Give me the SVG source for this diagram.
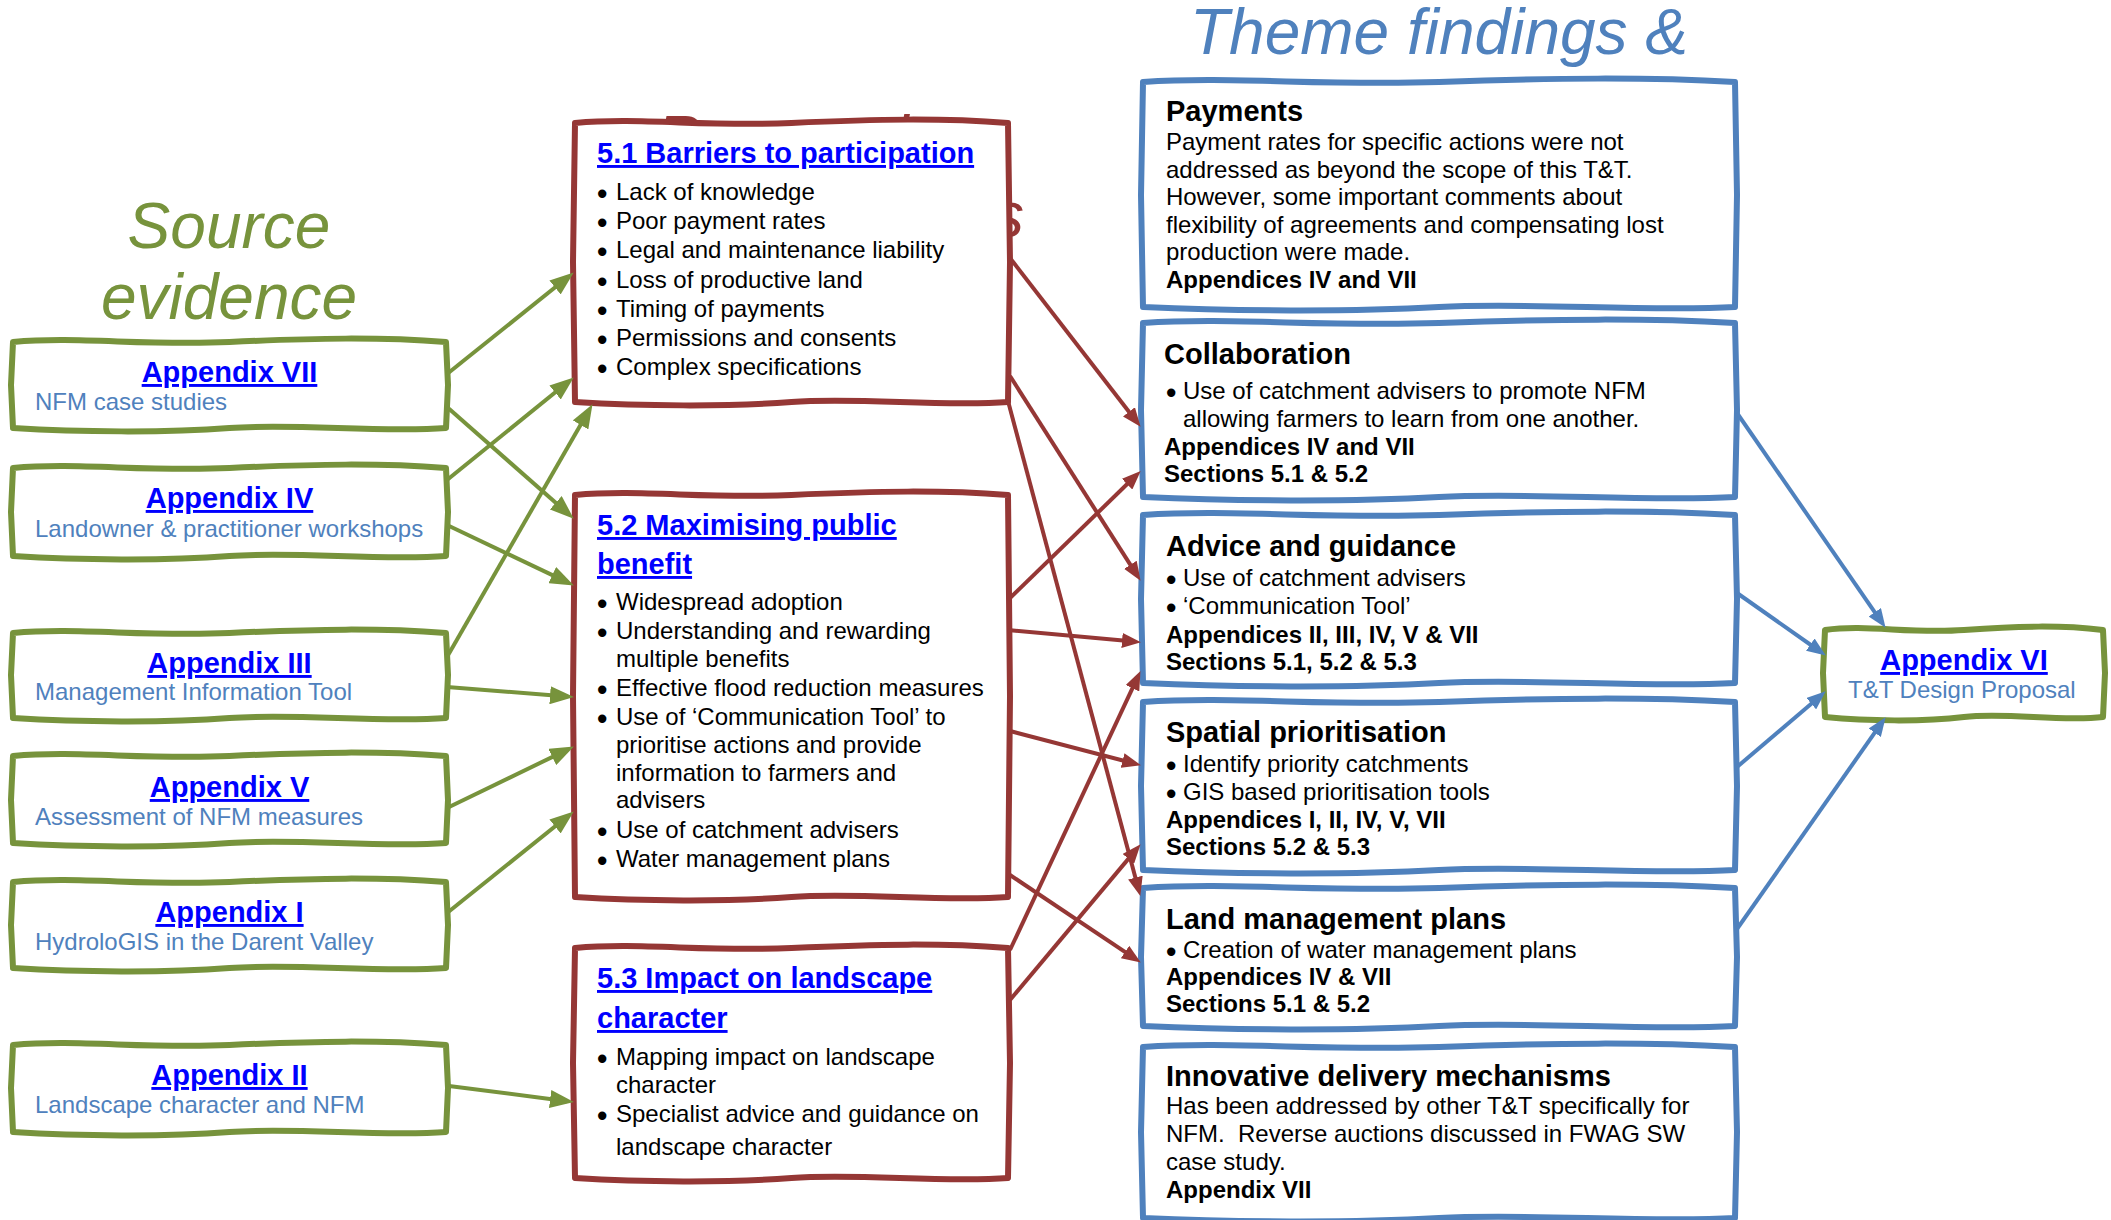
<svg xmlns="http://www.w3.org/2000/svg" width="2111" height="1220" viewBox="0 0 2111 1220">
<defs>
<style>
.box{fill:#fff;stroke-width:6;stroke-linejoin:round}
.g{stroke:#77933C}.r{stroke:#953735}.b{stroke:#4F81BD}
text{font-family:"Liberation Sans",Arial,sans-serif}
.ttl{font-size:29px;font-weight:bold;fill:#0000FF;text-decoration:underline}
.sub{font-size:24px;fill:#4F81BD}
.t{font-size:24px;fill:#000}
.bu{font-size:24px;fill:#000;stroke:#000;stroke-width:1.8}
.tb{font-size:24px;font-weight:bold;fill:#000}
.hd{font-size:29px;font-weight:bold;fill:#000}
.big{font-size:64px;font-style:italic}
.cg{stroke:#77933C;stroke-width:4;fill:none}
.cr{stroke:#953735;stroke-width:4;fill:none}
.cb{stroke:#4F81BD;stroke-width:4;fill:none}
</style>
<marker id="ag" markerUnits="userSpaceOnUse" markerWidth="24" markerHeight="18" refX="17" refY="9" orient="auto"><path d="M0,0 L24,9 L0,18 Z" fill="#77933C"/></marker>
<marker id="ar" markerUnits="userSpaceOnUse" markerWidth="19" markerHeight="15" refX="12" refY="7.5" orient="auto"><path d="M0,0 L19,7.5 L0,15 Z" fill="#953735"/></marker>
<marker id="ab" markerUnits="userSpaceOnUse" markerWidth="19" markerHeight="15" refX="12" refY="7.5" orient="auto"><path d="M0,0 L19,7.5 L0,15 Z" fill="#4F81BD"/></marker>
</defs>
<rect width="2111" height="1220" fill="#fff"/>

<g id="titles">
<text class="big" x="229" y="248" text-anchor="middle" fill="#77933C">Source</text>
<text class="big" x="229" y="319" text-anchor="middle" fill="#77933C">evidence</text>
<text class="big" x="1190" y="54" fill="#4F81BD">Theme findings &amp;</text>
<text class="big" x="656" y="161" fill="#953735">Research</text>
<text class="big" x="1024" y="237" fill="#953735" text-anchor="end">questions</text>
</g>

<g id="app-vii">
<path class="box g" d="M13,342 C78,336 143,346 229.5,342 S381,337 446,342 L448,385 446,428 C381,433 294.5,423 229.5,428 S78,432 13,428 L11,385 Z"/>
<text class="ttl" x="229.5" y="382" text-anchor="middle">Appendix VII</text>
<text class="sub" x="35" y="410">NFM case studies</text>
</g>
<g id="app-iv">
<path class="box g" d="M13,468 C78,462 143,472 229.5,468 S381,463 446,468 L448,512 446,556 C381,561 294.5,551 229.5,556 S78,560 13,556 L11,512 Z"/>
<text class="ttl" x="229.5" y="508" text-anchor="middle">Appendix IV</text>
<text class="sub" x="35" y="537">Landowner &amp; practitioner workshops</text>
</g>
<g id="app-iii">
<path class="box g" d="M13,633 C78,627 143,637 229.5,633 S381,628 446,633 L448,675 446,718 C381,723 294.5,713 229.5,718 S78,722 13,718 L11,675 Z"/>
<text class="ttl" x="229.5" y="673" text-anchor="middle">Appendix III</text>
<text class="sub" x="35" y="700">Management Information Tool</text>
</g>
<g id="app-v">
<path class="box g" d="M13,756 C78,750 143,760 229.5,756 S381,751 446,756 L448,800 446,843 C381,848 294.5,838 229.5,843 S78,847 13,843 L11,800 Z"/>
<text class="ttl" x="229.5" y="797" text-anchor="middle">Appendix V</text>
<text class="sub" x="35" y="825">Assessment of NFM measures</text>
</g>
<g id="app-i">
<path class="box g" d="M13,882 C78,876 143,886 229.5,882 S381,877 446,882 L448,925 446,968 C381,973 294.5,963 229.5,968 S78,972 13,968 L11,925 Z"/>
<text class="ttl" x="229.5" y="922" text-anchor="middle">Appendix I</text>
<text class="sub" x="35" y="950">HydroloGIS in the Darent Valley</text>
</g>
<g id="app-ii">
<path class="box g" d="M13,1045 C78,1039 143,1049 229.5,1045 S381,1040 446,1045 L448,1088 446,1132 C381,1137 294.5,1127 229.5,1132 S78,1136 13,1132 L11,1088 Z"/>
<text class="ttl" x="229.5" y="1085" text-anchor="middle">Appendix II</text>
<text class="sub" x="35" y="1113">Landscape character and NFM</text>
</g>

<g id="sec-5-1">
<path class="box r" d="M575,123 C640,117 705,127 791.5,123 S943,118 1008,123 L1010,262 1008,402 C943,407 856.5,397 791.5,402 S640,406 575,402 L573,262 Z"/>
<text class="ttl" x="597" y="163">5.1 Barriers to participation</text>
<text class="bu" x="598" y="202">•</text><text class="t" x="616" y="200">Lack of knowledge</text>
<text class="bu" x="598" y="231">•</text><text class="t" x="616" y="229">Poor payment rates</text>
<text class="bu" x="598" y="260">•</text><text class="t" x="616" y="258">Legal and maintenance liability</text>
<text class="bu" x="598" y="290">•</text><text class="t" x="616" y="288">Loss of productive land</text>
<text class="bu" x="598" y="319">•</text><text class="t" x="616" y="317">Timing of payments</text>
<text class="bu" x="598" y="348">•</text><text class="t" x="616" y="346">Permissions and consents</text>
<text class="bu" x="598" y="377">•</text><text class="t" x="616" y="375">Complex specifications</text>
</g>
<g id="sec-5-2">
<path class="box r" d="M575,495 C640,489 705,499 791.5,495 S943,490 1008,495 L1010,696 1008,897 C943,902 856.5,892 791.5,897 S640,901 575,897 L573,696 Z"/>
<text class="ttl" x="597" y="535">5.2 Maximising public</text>
<text class="ttl" x="597" y="574">benefit</text>
<text class="bu" x="598" y="612">•</text><text class="t" x="616" y="610">Widespread adoption</text>
<text class="bu" x="598" y="641">•</text><text class="t" x="616" y="639">Understanding and rewarding</text>
<text class="t" x="616" y="667">multiple benefits</text>
<text class="bu" x="598" y="698">•</text><text class="t" x="616" y="696">Effective flood reduction measures</text>
<text class="bu" x="598" y="727">•</text><text class="t" x="616" y="725">Use of ‘Communication Tool’ to</text>
<text class="t" x="616" y="753">prioritise actions and provide</text>
<text class="t" x="616" y="781">information to farmers and</text>
<text class="t" x="616" y="808">advisers</text>
<text class="bu" x="598" y="840">•</text><text class="t" x="616" y="838">Use of catchment advisers</text>
<text class="bu" x="598" y="869">•</text><text class="t" x="616" y="867">Water management plans</text>
</g>
<g id="sec-5-3">
<path class="box r" d="M575,948 C640,942 705,952 791.5,948 S943,943 1008,948 L1010,1063 1008,1178 C943,1183 856.5,1173 791.5,1178 S640,1182 575,1178 L573,1063 Z"/>
<text class="ttl" x="597" y="988">5.3 Impact on landscape</text>
<text class="ttl" x="597" y="1028">character</text>
<text class="bu" x="598" y="1067">•</text><text class="t" x="616" y="1065">Mapping impact on landscape</text>
<text class="t" x="616" y="1093">character</text>
<text class="bu" x="598" y="1124">•</text><text class="t" x="616" y="1122">Specialist advice and guidance on</text>
<text class="t" x="616" y="1155">landscape character</text>
</g>

<g id="payments">
<path class="box b" d="M1143,82 C1232,76 1321,86 1439,82 S1646,77 1735,82 L1737,195 1735,307 C1646,312 1528,302 1439,307 S1232,311 1143,307 L1141,195 Z"/>
<text class="hd" x="1166" y="121">Payments</text>
<text class="t" x="1166" y="150">Payment rates for specific actions were not</text>
<text class="t" x="1166" y="178">addressed as beyond the scope of this T&amp;T.</text>
<text class="t" x="1166" y="205">However, some important comments about</text>
<text class="t" x="1166" y="233">flexibility of agreements and compensating lost</text>
<text class="t" x="1166" y="260">production were made.</text>
<text class="tb" x="1166" y="288">Appendices IV and VII</text>
</g>
<g id="collaboration">
<path class="box b" d="M1143,323 C1232,317 1321,327 1439,323 S1646,318 1735,323 L1737,410 1735,497 C1646,502 1528,492 1439,497 S1232,501 1143,497 L1141,410 Z"/>
<text class="hd" x="1164" y="364">Collaboration</text>
<text class="bu" x="1167" y="401">•</text><text class="t" x="1183" y="399">Use of catchment advisers to promote NFM</text>
<text class="t" x="1183" y="427">allowing farmers to learn from one another.</text>
<text class="tb" x="1164" y="455">Appendices IV and VII</text>
<text class="tb" x="1164" y="482">Sections 5.1 &amp; 5.2</text>
</g>
<g id="advice">
<path class="box b" d="M1143,515 C1232,509 1321,519 1439,515 S1646,510 1735,515 L1737,599 1735,683 C1646,688 1528,678 1439,683 S1232,687 1143,683 L1141,599 Z"/>
<text class="hd" x="1166" y="556">Advice and guidance</text>
<text class="bu" x="1167" y="588">•</text><text class="t" x="1183" y="586">Use of catchment advisers</text>
<text class="bu" x="1167" y="616">•</text><text class="t" x="1183" y="614">‘Communication Tool’</text>
<text class="tb" x="1166" y="643">Appendices II, III, IV, V &amp; VII</text>
<text class="tb" x="1166" y="670">Sections 5.1, 5.2 &amp; 5.3</text>
</g>
<g id="spatial">
<path class="box b" d="M1143,702 C1232,696 1321,706 1439,702 S1646,697 1735,702 L1737,786 1735,870 C1646,875 1528,865 1439,870 S1232,874 1143,870 L1141,786 Z"/>
<text class="hd" x="1166" y="742">Spatial prioritisation</text>
<text class="bu" x="1167" y="774">•</text><text class="t" x="1183" y="772">Identify priority catchments</text>
<text class="bu" x="1167" y="802">•</text><text class="t" x="1183" y="800">GIS based prioritisation tools</text>
<text class="tb" x="1166" y="828">Appendices I, II, IV, V, VII</text>
<text class="tb" x="1166" y="855">Sections 5.2 &amp; 5.3</text>
</g>
<g id="land-management">
<path class="box b" d="M1143,888 C1232,882 1321,892 1439,888 S1646,883 1735,888 L1737,957 1735,1026 C1646,1031 1528,1021 1439,1026 S1232,1030 1143,1026 L1141,957 Z"/>
<text class="hd" x="1166" y="929">Land management plans</text>
<text class="bu" x="1167" y="960">•</text><text class="t" x="1183" y="958">Creation of water management plans</text>
<text class="tb" x="1166" y="985">Appendices IV &amp; VII</text>
<text class="tb" x="1166" y="1012">Sections 5.1 &amp; 5.2</text>
</g>
<g id="innovative">
<path class="box b" d="M1143,1047 C1232,1041 1321,1051 1439,1047 S1646,1042 1735,1047 L1737,1132 1735,1218 C1646,1223 1528,1213 1439,1218 S1232,1222 1143,1218 L1141,1132 Z"/>
<text class="hd" x="1166" y="1086">Innovative delivery mechanisms</text>
<text class="t" x="1166" y="1114">Has been addressed by other T&amp;T specifically for</text>
<text class="t" x="1166" y="1142" xml:space="preserve">NFM.  Reverse auctions discussed in FWAG SW</text>
<text class="t" x="1166" y="1170">case study.</text>
<text class="tb" x="1166" y="1198">Appendix VII</text>
</g>

<g id="app-vi">
<path class="box g" d="M1825,630 C1867,624 1908,634 1964,630 S2061,625 2103,630 L2105,673 2103,717 C2061,722 2006,712 1964,717 S1867,721 1825,717 L1823,673 Z"/>
<text class="ttl" x="1964" y="670" text-anchor="middle">Appendix VI</text>
<text class="sub" x="1848" y="698">T&amp;T Design Proposal</text>
</g>

<g id="connectors">
<line class="cg" x1="447" y1="374" x2="568.3" y2="276.8" marker-end="url(#ag)"/>
<line class="cg" x1="447" y1="407" x2="568.5" y2="514" marker-end="url(#ag)"/>
<line class="cg" x1="447" y1="480" x2="568.3" y2="381.8" marker-end="url(#ag)"/>
<line class="cg" x1="447" y1="525" x2="567.6" y2="582.4" marker-end="url(#ag)"/>
<line class="cg" x1="447" y1="657" x2="589" y2="410.2" marker-end="url(#ag)"/>
<line class="cg" x1="447" y1="687" x2="567" y2="696.5" marker-end="url(#ag)"/>
<line class="cg" x1="447" y1="808" x2="567.6" y2="749.6" marker-end="url(#ag)"/>
<line class="cg" x1="447" y1="913" x2="568.3" y2="815.8" marker-end="url(#ag)"/>
<line class="cg" x1="449" y1="1086" x2="567" y2="1101.2" marker-end="url(#ag)"/>

<line class="cr" x1="1010" y1="258" x2="1136.3" y2="421.3" marker-end="url(#ar)"/>
<line class="cr" x1="1010" y1="376" x2="1136.8" y2="574.9" marker-end="url(#ar)"/>
<line class="cr" x1="1008" y1="401" x2="1138.5" y2="889.2" marker-end="url(#ar)"/>
<line class="cr" x1="1008" y1="600" x2="1135.7" y2="475.8" marker-end="url(#ar)"/>
<line class="cr" x1="1008" y1="630" x2="1134" y2="641.5" marker-end="url(#ar)"/>
<line class="cr" x1="1010" y1="731" x2="1134.2" y2="763.5" marker-end="url(#ar)"/>
<line class="cr" x1="1010" y1="875" x2="1135" y2="958.7" marker-end="url(#ar)"/>
<line class="cr" x1="1010" y1="950" x2="1137.5" y2="677.4" marker-end="url(#ar)"/>
<line class="cr" x1="1010" y1="1000" x2="1136.1" y2="849.6" marker-end="url(#ar)"/>

<line class="cb" x1="1737" y1="413" x2="1881.6" y2="622.1" marker-end="url(#ab)"/>
<line class="cb" x1="1737" y1="593" x2="1820.1" y2="651.5" marker-end="url(#ab)"/>
<line class="cb" x1="1737" y1="767" x2="1820.4" y2="695.9" marker-end="url(#ab)"/>
<line class="cb" x1="1737" y1="929" x2="1881.6" y2="722.9" marker-end="url(#ab)"/>
</g>
</svg>
